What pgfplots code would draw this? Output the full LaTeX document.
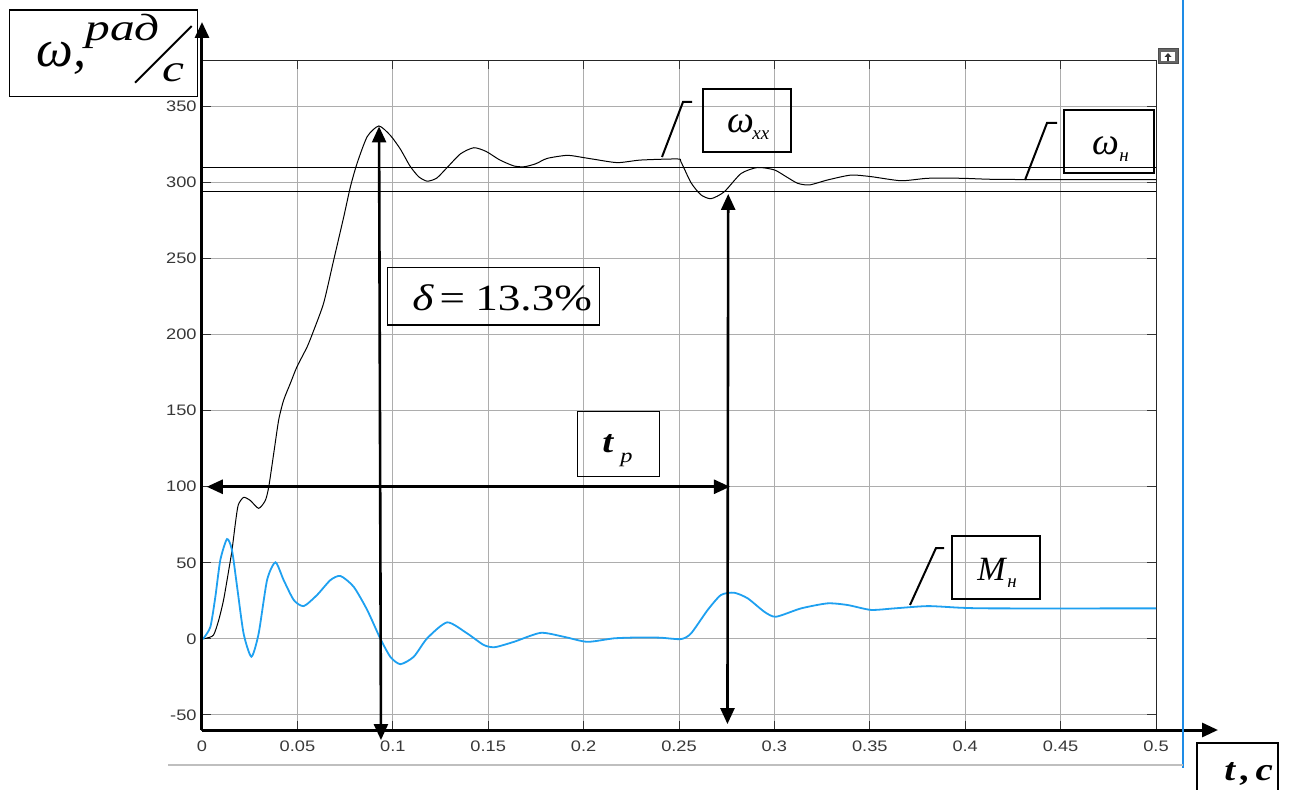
\documentclass[border=0pt]{standalone}
\usepackage{fontspec}
\setmainfont{Liberation Serif}
\newfontfamily\tickfont{Liberation Sans}[FakeStretch=1.2]
\newfontfamily\lblA{Liberation Serif}[FakeStretch=1.3]
\newfontfamily\lblB{Liberation Serif}[FakeStretch=1.22]
\usepackage{pgfplots}
\pgfplotsset{compat=1.18}
\usetikzlibrary{arrows.meta}
\definecolor{mblue}{RGB}{30,160,240}
\definecolor{scopeblue}{RGB}{30,140,230}

\begin{document}
\begin{tikzpicture}
\path[use as bounding box] (0,0) rectangle (646pt,394.5pt);
\begin{axis}[
  at={(101pt,29.5pt)}, anchor=south west,
  width=477pt, height=335pt, scale only axis,
  xmin=0, xmax=0.5, ymin=-60, ymax=380.7,
  xtick={0,0.05,0.1,0.15,0.2,0.25,0.3,0.35,0.4,0.45,0.5},
  xticklabels={0,0.05,0.1,0.15,0.2,0.25,0.3,0.35,0.4,0.45,0.5},
  ytick={-50,0,50,100,150,200,250,300,350},
  yticklabels={-50,0,50,100,150,200,250,300,350},
  grid=major, major grid style={black!32, line width=0.5pt},
  tick align=inside, xtick pos=both, ytick pos=both,
  major tick length=4.5pt,
  tick style={black!80, line width=0.5pt},
  axis line style={black!85, line width=0.5pt},
  tick label style={font=\tickfont\fontsize{7.6}{8}\selectfont, text=black!78},
  xticklabel style={anchor=north, inner sep=0pt, yshift=-5pt},
  yticklabel style={anchor=east, inner sep=0pt, xshift=-2.5pt},
  clip=false,
]
% omega curve
\addplot[black, line width=0.5pt, smooth, tension=0.4] coordinates {
(0,0) (0.002,0.3) (0.006,2.4) (0.0087,12) (0.0113,25.5) (0.014,45) (0.0157,58)
(0.0175,76) (0.019,88) (0.0218,93) (0.0253,91) (0.0297,85.8) (0.0332,91) (0.035,100)
(0.0376,122) (0.0402,144) (0.0428,157) (0.0463,168) (0.0498,179) (0.0551,192)
(0.0586,203) (0.0638,221) (0.069,249) (0.0743,277.6) (0.0778,297.4) (0.0813,312.8)
(0.0866,330.3) (0.0927,337.3) (0.0988,331) (0.104,322) (0.109,311) (0.1135,304)
(0.118,301) (0.123,303) (0.1285,310) (0.1355,319) (0.1425,323) (0.149,320.5)
(0.156,315) (0.1635,311) (0.169,310.5) (0.175,312.5) (0.181,316) (0.1915,318)
(0.2,316.5) (0.2055,315.4) (0.2178,313.2) (0.23,314.9) (0.2492,315.6) (0.251,313.8)
(0.2563,300) (0.2615,292) (0.2668,289.5) (0.2737,294) (0.2825,306) (0.2912,310)
(0.3,308.4) (0.3061,304) (0.3122,299.6) (0.3183,298.5) (0.3279,301.8) (0.3401,305)
(0.3506,304) (0.3664,301.3) (0.3804,302.9) (0.398,302.9) (0.4153,302.2) (0.45,302) (0.5,302)
};
% M curve
\addplot[mblue, line width=0.9pt, smooth, tension=0.4] coordinates {
(0,0) (0.0008,0.3) (0.0044,7.9) (0.007,27.6) (0.0096,51.8) (0.0131,65.6) (0.0157,58.4)
(0.0184,34.2) (0.0218,3.5) (0.0259,-11.8) (0.0297,3.5) (0.0341,38.6) (0.0385,50.3)
(0.0428,38.6) (0.0481,25.5) (0.0533,21.5) (0.0603,28.8) (0.0673,38.6) (0.0726,41.3)
(0.0795,34.2) (0.0866,18.9) (0.0935,0) (0.0988,-12) (0.104,-16.7) (0.111,-11.8)
(0.118,0.3) (0.1285,10.8) (0.139,3.5) (0.1477,-4.1) (0.1535,-5.5) (0.1635,-2)
(0.1775,3.9) (0.1897,1.3) (0.202,-2) (0.216,0.3) (0.23,0.9) (0.2405,0.7) (0.251,-0.2)
(0.2563,3.5) (0.265,18.9) (0.272,28.8) (0.2789,30.3) (0.286,26.6) (0.2947,17.8)
(0.3008,14.5) (0.314,20) (0.3279,23.3) (0.3384,22.2) (0.3506,19) (0.3629,20)
(0.3804,21.5) (0.398,20.4) (0.4153,20) (0.5,20)
};
% tolerance band lines
\addplot[black, line width=0.5pt] coordinates {(0,310) (0.5,310)};
\addplot[black, line width=0.5pt] coordinates {(0,294.5) (0.5,294.5)};
% thick axes with arrows
\draw[line width=1.5pt, -{Triangle[length=8pt,width=7pt]}] (axis cs:0,-60) -- (axis cs:0,405.7);
\draw[line width=1.5pt, -{Triangle[length=8pt,width=7pt]}] (axis cs:0,-60) -- (axis cs:0.5325,-60);
% overshoot arrow
\draw[line width=1.3pt, {Triangle[length=8pt,width=7pt]}-{Triangle[length=8pt,width=7pt]}] (axis cs:0.0938,-66.6) -- (axis cs:0.0928,337);
% settling time arrows
\draw[line width=1.3pt, {Triangle[length=8pt,width=7pt]}-{Triangle[length=8pt,width=7pt]}] (axis cs:0.2754,-56.1) -- (axis cs:0.2758,292.6);
\draw[line width=1.3pt, {Triangle[length=8pt,width=7pt]}-{Triangle[length=8pt,width=7pt]}] (axis cs:0.0025,100) -- (axis cs:0.2767,100);
\end{axis}

\begin{scope}[x=0.5pt, y=-0.5pt, yshift=394.5pt]
% scope window borders
\draw[scopeblue, line width=1pt] (1183.3,0) -- (1183.3,768);
\draw[black!25, line width=1pt] (168,765) -- (1183,765);
% icon
\draw[black!70, fill=black!60, line width=0.5pt] (1158,49) rectangle (1178,64);
\fill[white] (1161,52) rectangle (1175,61);
\draw[black!80, line width=1pt] (1168,61) -- (1168,56);
\fill[black!80] (1164.5,57) -- (1168,53) -- (1171.5,57) -- cycle;
% y label box
\draw[line width=0.6pt] (9.3,10) rectangle (197.3,96.7);
\node[anchor=base west, inner sep=0pt] at (36,67) {\fontsize{26}{28}\selectfont\itshape ω,};
\node[anchor=base west, inner sep=0pt] at (85,41) {\lblA\fontsize{19}{20}\selectfont\itshape рад};
\draw[line width=1pt] (191.7,26) -- (135,82.7);
\node[anchor=base west, inner sep=0pt] at (162,82) {\lblA\fontsize{19}{20}\selectfont\itshape с};
% x label box
\draw[line width=0.6pt] (1197,743) rectangle (1278,810);
\node[anchor=base west, inner sep=0pt] at (1224,780) {\lblB\fontsize{16}{18}\selectfont\bfseries\itshape t\,,\,c};
% delta box
\draw[line width=0.5pt] (387,268) rectangle (599,325);
\node[anchor=base west, inner sep=0pt] at (412,310) {\lblB\fontsize{18.5}{20}\selectfont{\itshape δ}\,=\hspace{0.28em}13.3\%};
% t_p box
\draw[line width=0.5pt] (577.3,411.7) rectangle (659,476.7);
\node[anchor=base west, inner sep=0pt] at (602,453) {\lblB\fontsize{16}{18}\selectfont\bfseries\itshape t};
\node[anchor=base west, inner sep=0pt] at (620,462) {\lblB\fontsize{10}{11}\selectfont\itshape р};
% omega_xx box
\draw[line width=1.2pt] (703,89) rectangle (791,152);
\node[anchor=base west, inner sep=0pt] at (727,133) {\fontsize{19}{20}\selectfont\itshape ω};
\node[anchor=base west, inner sep=0pt] at (752,140) {\fontsize{9.5}{10}\selectfont\itshape xx};
\draw[line width=1pt] (662,157) -- (683,102) -- (692,102);
% omega_n box
\draw[line width=1.2pt] (1064,110) rectangle (1154,173);
\node[anchor=base west, inner sep=0pt] at (1092,155) {\fontsize{19}{20}\selectfont\itshape ω};
\node[anchor=base west, inner sep=0pt] at (1119,162) {\fontsize{9.5}{10}\selectfont\itshape н};
\draw[line width=1pt] (1025,180) -- (1047,123) -- (1057,123);
% M_n box
\draw[line width=1pt] (951.5,536) rectangle (1040,599);
\node[anchor=base west, inner sep=0pt] at (977,580) {\fontsize{17}{19}\selectfont\itshape M};
\node[anchor=base west, inner sep=0pt] at (1007,587) {\fontsize{9.5}{10}\selectfont\itshape н};
\draw[line width=1pt] (910,605) -- (936,548) -- (944,548);
\end{scope}
\end{tikzpicture}
\end{document}
